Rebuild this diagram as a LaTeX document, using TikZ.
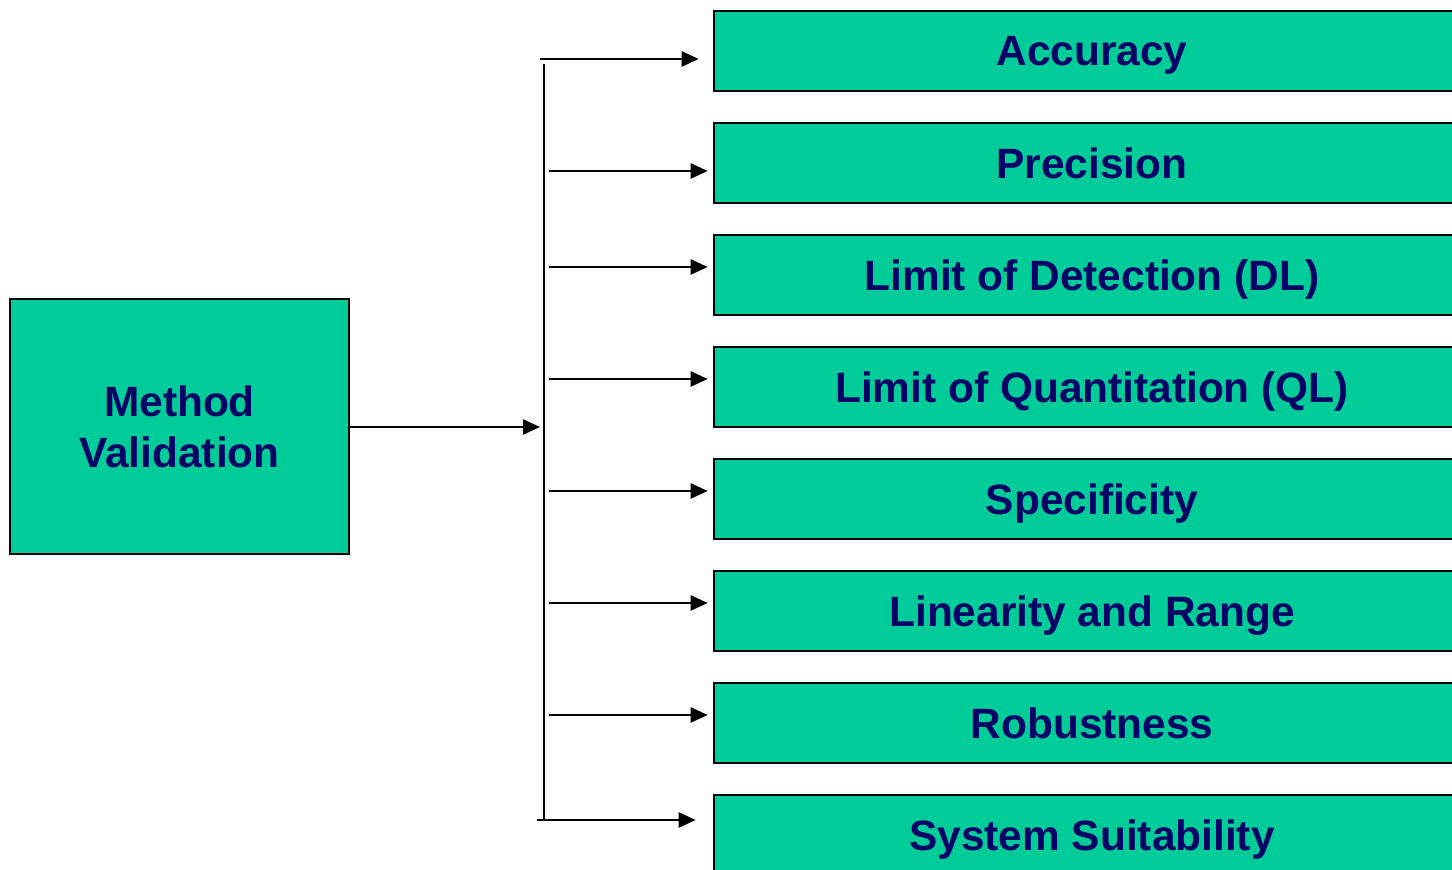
\documentclass[tikz,border=0pt]{standalone}
\usepackage{fontspec}
\setmainfont{Liberation Sans}
\usetikzlibrary{arrows.meta}
\definecolor{boxgreen}{HTML}{00CC99}
\definecolor{textnavy}{HTML}{000066}
\tikzset{
  px/.style={x=0.5pt,y=-0.5pt},
  greenbox/.style={draw=black,line width=1.3pt,fill=boxgreen,text=textnavy,
    font=\fontsize{21.2pt}{25.5pt}\selectfont\bfseries,inner sep=0pt,align=center,
    text depth=0pt},
  itembox/.style={greenbox,minimum width=378pt,minimum height=40pt},
  link/.style={line width=1.15pt},
  arr/.style={link,-{Triangle[length=8.5pt,width=7.5pt]}},
}
\begin{document}
\begin{tikzpicture}[px]
\useasboundingbox (0,0) rectangle (1452,870);
% source box
\node[greenbox,minimum width=169.5pt,minimum height=127.5pt] (mv) at (179.5,426.5) {Method\\Validation};
% validation characteristics
\node[itembox] (b1) at (1092,51) {Accuracy};
\node[itembox] (b2) at (1092,163) {Precision};
\node[itembox] (b3) at (1092,275) {Limit of Detection (DL)};
\node[itembox] (b4) at (1092,387) {Limit of Quantitation (QL)};
\node[itembox] (b5) at (1092,499) {Specificity};
\node[itembox] (b6) at (1092,611) {Linearity and Range};
\node[itembox] (b7) at (1092,723) {Robustness};
\node[itembox] (b8) at (1092,835) {System Suitability};
% distribution bar
\coordinate (bartop) at (544,64);
\coordinate (barbot) at (544,820);
\coordinate (hub) at (540,427);
\draw[link] (bartop) -- (barbot);
\draw[arr] (mv.east |- hub) -- (hub);
% branch start points
\coordinate (s1) at (540,59);
\coordinate (s2) at (549,171);
\coordinate (s3) at (549,267);
\coordinate (s4) at (549,379);
\coordinate (s5) at (549,491);
\coordinate (s6) at (549,603);
\coordinate (s7) at (549,715);
\coordinate (s8) at (537,820);
\draw[arr,shorten >=7pt] (s1) -- (s1 -| b1.west);
\foreach \i in {2,...,7}{
  \draw[arr,shorten >=2.5pt] (s\i) -- (s\i -| b\i.west);
}
\draw[arr,shorten >=8.5pt] (s8) -- (s8 -| b8.west);
\end{tikzpicture}
\end{document}
